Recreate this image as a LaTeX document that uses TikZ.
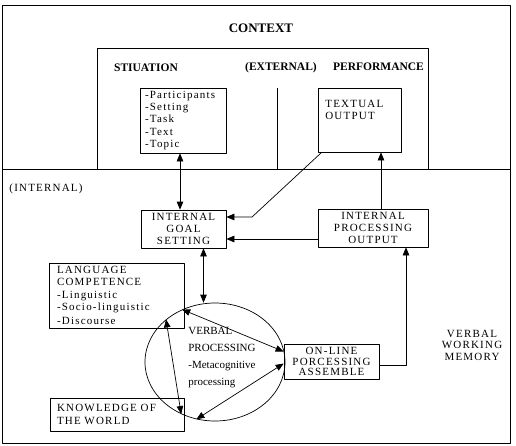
\documentclass[tikz,border=0pt]{standalone}
\usepackage{fontspec}
\setmainfont{Liberation Serif}
\newfontfamily\boxfont[LetterSpace=11]{Liberation Serif}
\usetikzlibrary{arrows.meta,shapes.geometric,calc}
\tikzset{
  box/.style={draw, inner sep=0pt, font=\boxfont\fontsize{11}{12.2}\selectfont},
  boxtext/.style={inner sep=0pt, font=\boxfont\fontsize{11}{12.2}\selectfont},
  head/.style={inner sep=0pt, font=\bfseries\fontsize{11.5}{13}\selectfont}
}
\begin{document}
\begin{tikzpicture}[x=1pt,y=-1pt,>={Triangle[length=8pt,width=6.5pt]}, line join=round, line width=.7pt]
\useasboundingbox (0,0) rectangle (516,445);
\def\xl{2} \def\xr{510} \def\yt{5} \def\yb{443} % khung ngoai
\def\ymid{169} % external / internal
\draw (\xl,\yt) rectangle (\xr,\yb);
\draw (\xl,\ymid) -- (\xr,\ymid);
\draw (97,\ymid) |- (428,48) -- (428,\ymid);
\draw (277,88) -- (277,\ymid);
\node[inner sep=0pt, font=\bfseries\fontsize{13}{15}\selectfont] (context) at (261,28) {CONTEXT};
\node[head] (situation) at (146,68) {STIUATION};
\node[head] (external) at (281,68) {(EXTERNAL)};
\node[head] (performance) at (378.5,67) {PERFORMANCE};
\node[boxtext] (internal) at (46,189) {(INTERNAL)};
\node[boxtext, align=center, font=\boxfont\fontsize{11}{11.5}\selectfont] (memory) at (472,345) {VERBAL\\WORKING\\MEMORY};
% cac hop
\node[box, minimum width=86pt, minimum height=65pt, text width=76pt, align=left] (sit) at (183,120.5) {-Participants\\-Setting\\-Task\\-Text\\-Topic};
\node[box, minimum width=83pt, minimum height=64pt] (textout) at (359.5,120) {};
\node[boxtext, anchor=north west, align=left] (textoutlbl) at (325,100) {TEXTUAL\\OUTPUT};
\node[box, minimum width=85pt, minimum height=38pt, align=center] (goal) at (183.5,229) {INTERNAL\\GOAL\\SETTING};
\node[box, minimum width=110pt, minimum height=38pt, align=center] (ipo) at (373,228) {INTERNAL\\PROCESSING\\OUTPUT};
\node[box, minimum width=135pt, minimum height=65pt, text width=119pt, align=left] (lang) at (116.5,295.5) {LANGUAGE\\COMPETENCE\\-Linguistic\\-Socio-linguistic\\[2pt]-Discourse};
\node[box, minimum width=134pt, minimum height=33pt, text width=120pt, align=left] (know) at (117,414.5) {KNOWLEDGE OF\\THE WORLD};
\node[box, minimum width=95pt, minimum height=35pt, align=center, font=\boxfont\fontsize{11}{10.8}\selectfont] (online) at (331.5,361.5) {ON-LINE\\PORCESSING\\ASSEMBLE};
\node[draw, ellipse, minimum width=140pt, minimum height=118pt, inner sep=0pt] (vp) at (215,362) {};
\node[inner sep=0pt, align=left, font=\fontsize{11}{17}\selectfont] (vplbl) at ($(vp.center)+(7,-4)$) {VERBAL\\PROCESSING\\-Metacognitive\\processing};
% mui ten
\coordinate (bend) at (252,217);
\draw[<->] ([xshift=-3pt]sit.south) -- ([xshift=-3pt]sit.south |- goal.north);
\draw[->] ([xshift=4pt]textout.south west) -- (bend) -- (bend -| goal.east);
\draw[->] ([xshift=8pt]ipo.north) -- ([xshift=8pt]ipo.north |- textout.south);
\draw[->] ([yshift=-11pt]ipo.west) -- ([yshift=-11pt]ipo.west -| goal.east);
\draw[<->] ([xshift=20pt]goal.south) -- ([xshift=20pt]goal.south |- vp.north);
\draw[<->] (vp.122) -- ([yshift=10pt]online.west);
\draw[<->] (vp.252) -- ([yshift=-2pt]online.west);
\draw[<->] (vp.139) -- (vp.237);
\draw[->] ([yshift=-3.5pt]online.east) -| ([xshift=33pt]ipo.south);
\end{tikzpicture}
\end{document}
